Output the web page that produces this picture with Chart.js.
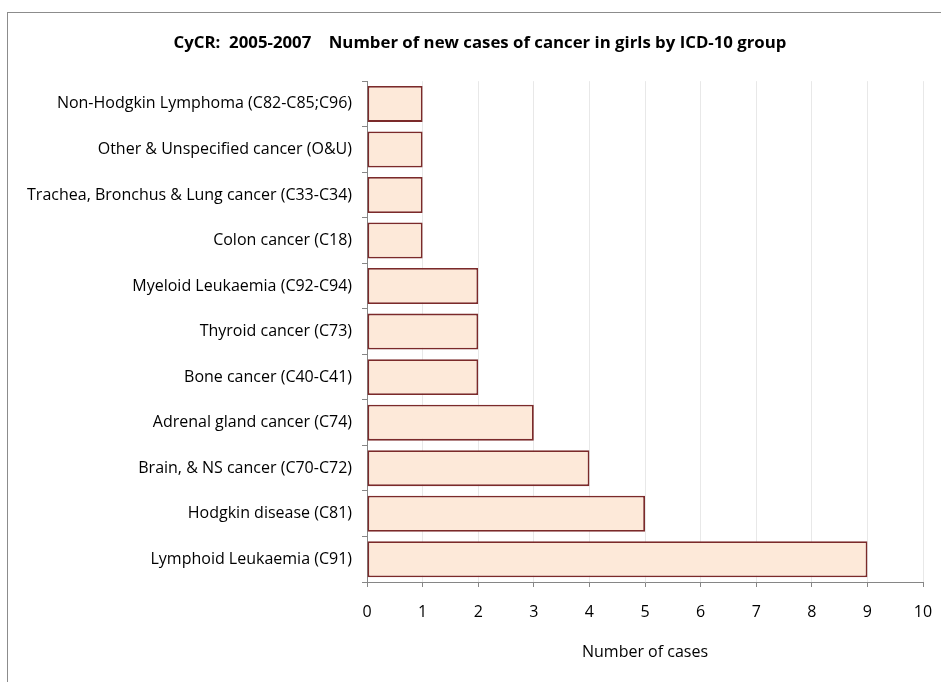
<!DOCTYPE html>
<html>
<head>
<meta charset="utf-8">
<script src="https://cdn.jsdelivr.net/npm/chart.js@4"></script>
<style>
  html, body { margin: 0; padding: 0; background: #fff; }
  #wrap { width: 941px; height: 682px; position: relative; }
</style>
</head>
<body>
<div id="wrap"><canvas id="cancerChart"></canvas></div>
<script>
const chartTitle = 'CyCR:  2005-2007    Number of new cases of cancer in girls by ICD-10 group';
const axisTitle = 'Number of cases';

// top to bottom, as in the picture
const categories = [
    'Non-Hodgkin Lymphoma (C82-C85;C96)',
    'Other & Unspecified cancer (O&U)',
    'Trachea, Bronchus & Lung cancer (C33-C34)',
    'Colon cancer (C18)',
    'Myeloid Leukaemia (C92-C94)',
    'Thyroid cancer (C73)',
    'Bone cancer (C40-C41)',
    'Adrenal gland cancer (C74)',
    'Brain, & NS cancer (C70-C72)',
    'Hodgkin disease (C81)',
    'Lymphoid Leukaemia (C91)'
];
const cases = [1, 1, 1, 1, 2, 2, 2, 3, 4, 5, 9];
const xTicks = [0, 1, 2, 3, 4, 5, 6, 7, 8, 9, 10];

const FONT = "'Open Sans', 'Liberation Sans', sans-serif";
const AXIS_GREY = '#868686';

// grey outer frame like the spreadsheet chart box
const framePlugin = {
    id: 'frame',
    beforeDraw(chart) {
        const ctx = chart.ctx;
        ctx.save();
        ctx.strokeStyle = '#8c8c8c';
        ctx.lineWidth = 1;
        ctx.strokeRect(7.5, 12.5, 1000, 1000);
        ctx.restore();
    }
};

const ctx = document.getElementById('cancerChart').getContext('2d');
new Chart(ctx, {
    type: 'bar',
    data: {
        labels: categories,
        datasets: [{
            label: 'Cases',
            data: cases,
            backgroundColor: '#fde9d9',
            borderColor: '#7b2a2a',
            borderWidth: 1.8,
            borderSkipped: false,
            barPercentage: 0.79,
            categoryPercentage: 1
        }]
    },
    options: {
        indexAxis: 'y',
        responsive: true,
        maintainAspectRatio: false,
        animation: false,
        layout: { padding: { left: 19, right: 0, top: 0, bottom: 0 } },
        plugins: {
            legend: { display: false },
            tooltip: { enabled: false },
            title: {
                display: true,
                text: chartTitle,
                color: '#000',
                font: { family: FONT, size: 16.8, weight: 'bold' },
                padding: { top: 33, bottom: 28 }
            }
        },
        scales: {
            x: {
                min: 0,
                max: 10,
                afterFit(scale) {
                    scale.height = 100;
                    scale.paddingLeft = 0;
                    scale.paddingRight = 18;
                },
                afterBuildTicks(scale) {
                    scale.ticks = xTicks.map(v => ({ value: v }));
                },
                border: { color: AXIS_GREY, width: 1 },
                grid: {
                    color: '#e8e8e8',
                    tickColor: AXIS_GREY,
                    tickLength: 5
                },
                ticks: {
                    color: '#000',
                    font: { family: FONT, size: 16 },
                    padding: 16,
                    maxRotation: 0
                },
                title: {
                    display: true,
                    text: axisTitle,
                    color: '#000',
                    font: { family: FONT, size: 16 },
                    padding: { top: 0, bottom: 20 }
                }
            },
            y: {
                afterFit(scale) { scale.width = 348; },
                border: { color: AXIS_GREY, width: 1 },
                grid: {
                    drawOnChartArea: false,
                    color: AXIS_GREY,
                    tickLength: 5
                },
                ticks: {
                    color: '#000',
                    font: { family: FONT, size: 16 },
                    padding: 10
                }
            }
        }
    },
    plugins: [framePlugin]
});
</script>
</body>
</html>
